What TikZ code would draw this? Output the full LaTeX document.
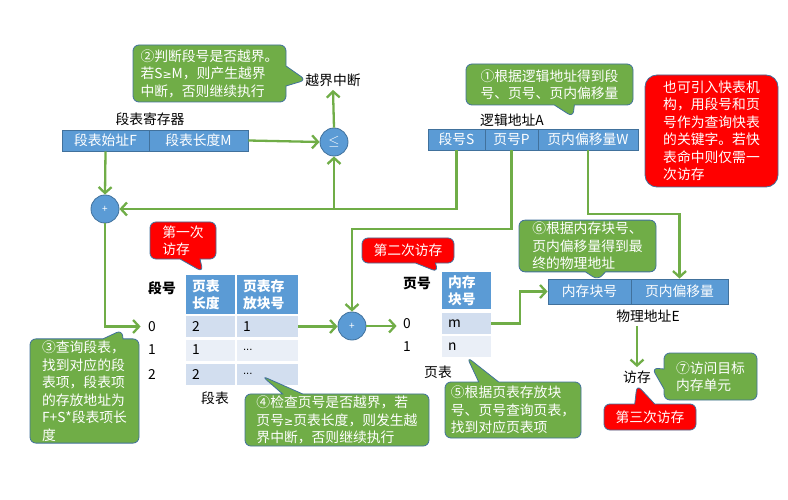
\documentclass[tikz,border=0pt]{standalone}
\usepackage{fontspec}
\setmainfont{Noto Sans CJK SC}
\newfontfamily\relfont{DejaVu Sans}
\usepackage{xcolor}
\usetikzlibrary{shapes,shapes.callouts,arrows.meta,positioning,calc}

\definecolor{regblue}{HTML}{5B9BD5}
\definecolor{boxline}{HTML}{41719C}
\definecolor{notegreen}{HTML}{70AD47}
\definecolor{wiregreen}{HTML}{70AD47}
\definecolor{alertred}{HTML}{FF0000}
\definecolor{rowdark}{HTML}{D2DEEF}
\definecolor{rowlight}{HTML}{EAEFF7}
\newcommand{\moredots}{{\relfont\fontsize{10pt}{12pt}\selectfont ...}}
\newcommand{\geqsign}{{\relfont\fontsize{11pt}{12pt}\selectfont ≥}}

\tikzset{
  every node/.style={font=\fontsize{13.8pt}{17.5pt}\selectfont},
  note/.style={rectangle callout, draw=boxline, fill=notegreen, text=white,
    rounded corners=6pt, align=left, inner sep=2pt, line width=0.8pt,
    callout pointer width=20pt},
  alert/.style={note, fill=alertred},
  cell/.style={draw=boxline, fill=regblue, text=white, inner sep=0pt,
    minimum height=21pt, line width=0.8pt},
  tcell/.style={fill=rowdark, inner xsep=6pt, inner ysep=0pt, align=left,
    minimum height=21pt},
  thead/.style={tcell, fill=regblue, text=white, font=\fontsize{13.8pt}{17pt}\selectfont\bfseries},
  adder/.style={circle, draw=boxline, fill=regblue, text=white, minimum size=28pt,
    inner sep=0pt, line width=0.8pt},
  flow/.style={draw=wiregreen, line width=2.3pt, -{Straight Barb[length=6pt,width=13pt]}},
}

\begin{document}
\begin{tikzpicture}[x=1pt, y=-1pt]
    \useasboundingbox (0,0) rectangle (788,500);

    % Segment register
    \node at (150,119) (regt) {段表寄存器};
    \node[cell, minimum width=87pt] (base) at (105.5,140.5) {段表始址F};
    \node[cell, minimum width=99pt] (len) at (198.5,140.5) {段表长度M};

    % Logical address
    \node (lat) at (512,120) {逻辑地址A};
    \node[cell, minimum width=57pt] (segS) at (456.5,139.5) {段号S};
    \node[cell, minimum width=53pt] (pageP) at (511.5,139.5) {页号P};
    \node[cell, minimum width=100pt] (offW) at (588,139.5) {页内偏移量W};

    % Physical address
    \node[cell, minimum width=83pt, minimum height=25pt] (pblk) at (589.5,291.5) {内存块号};
    \node[cell, minimum width=97pt, minimum height=25pt] (pofs) at (679.5,291.5) {页内偏移量};
    \node (pat) at (648,316) {物理地址E};
    \node (acc) at (637,377) {访存};

    % Compare and adders
    \node[adder] (cmp) at (334,142) {$\leq$};
    \node[adder, font=\fontsize{10pt}{12pt}\selectfont] (add1) at (105,209) {+};
    \node[adder, font=\fontsize{10pt}{12pt}\selectfont] (add2) at (352,326) {+};
    \node (trap) at (333,80) {越界中断};

    % Segment table
    \node[font=\fontsize{13.8pt}{17pt}\selectfont\bfseries] (sno) at (162,288) {段号};
    \node[thead, text width=37pt, minimum height=39pt] (sh1) at (210.5,294.5) {页表\\长度};
    \node[thead, text width=49pt, minimum height=39pt] (sh2) at (267.5,294.5) {页表存\\放块号};
    \foreach \n/\y/\a/\b/\c in {0/326.5/2/1/rowdark, 1/350/1/\moredots/rowlight, 2/374/2/\moredots/rowdark}{
        \node (s\n) at (152,\y) {\n};
        \node[tcell, fill=\c, text width=37pt] (sa\n) at (210.5,\y) {\a};
        \node[tcell, fill=\c, text width=49pt] (sb\n) at (267.5,\y) {\b};
    }
    \node (stl) at (215,398) {段表};

    % Page table
    \node[font=\fontsize{13.8pt}{17pt}\selectfont\bfseries] (pno) at (417,283) {页号};
    \node[thead, text width=37pt, minimum height=37pt] (ph) at (466.5,290.5) {内存\\块号};
    \foreach \n/\y/\a/\c in {0/323.5/m/rowdark, 1/346.5/n/rowlight}{
        \node (p\n) at (407,\y) {\n};
        \node[tcell, fill=\c, text width=37pt] (pc\n) at (466.5,\y) {\a};
    }
    \node (ptl) at (438,372) {页表};

    % Wires
    \coordinate (bendP) at (511.5,229);
    \coordinate (bendW) at (588,214);
    \draw[flow] (base.south) -- (add1.north);
    \draw[flow] (len.east) -- (cmp.west);
    \draw[flow] (cmp.north) -- (trap.south);
    \draw[flow] (segS.south) |- (add1.east);
    \draw[flow] (cmp.south |- add1) -- (cmp.south);
    \draw[flow] (pageP.south) -- (bendP) -| (add2.north);
    \draw[flow] (offW.south) -- (bendW) -| (pofs.north);
    \draw[flow] (add1.south) |- ([xshift=-4pt]s0.west);
    \draw[flow] (sb0.east) -- (sb0.east -| add2.west);
    \draw[flow] (add2.east) -- ([xshift=-3pt]add2.east -| p0.west);
    \draw[flow] (pc0.east) -- ++(29,0) |- (pblk.west);
    \draw[flow] (acc |- pat.south) -- (acc.north);

    % Callout tips
    \coordinate (tip1) at (573,117);
    \coordinate (tip2) at (306,80);
    \coordinate (tip3) at (122,330);
    \coordinate (tip4) at (262,376);
    \coordinate (tip5) at (467,357);
    \coordinate (tip6) at (598,280);
    \coordinate (tip7) at (652,368);
    \coordinate (hit1) at (203,272);
    \coordinate (hit2) at (438,272);
    \coordinate (hit3) at (637,385);

    % Notes
    \node[note, minimum width=167pt, minimum height=41pt, callout absolute pointer=(tip1)] (n1) at (549.5,84.5)
        {①根据逻辑地址得到段\\号、页号、页内偏移量};
    \node[note, minimum width=153pt, minimum height=57pt, callout absolute pointer=(tip2)] (n2) at (209.5,73.5)
        {②判断段号是否越界。\\若S\geqsign M，则产生越界\\中断，否则继续执行};
    \node[note, minimum width=109pt, minimum height=98pt, callout absolute pointer=(tip3)] (n3) at (84.5,391)
        {③查询段表，\\找到对应的段\\表项，段表项\\的存放地址为\\F+S*段表项长\\度};
    \node[note, minimum width=184pt, minimum height=52pt, callout absolute pointer=(tip4)] (n4) at (337,420)
        {④检查页号是否越界，若\\页号\geqsign 页表长度，则发生越\\界中断，否则继续执行};
    \node[note, minimum width=136pt, minimum height=56pt, callout absolute pointer=(tip5)] (n5) at (513,410)
        {⑤根据页表存放块\\号、页号查询页表，\\找到对应页表项};
    \node[note, minimum width=137pt, minimum height=48pt, callout absolute pointer=(tip6)] (n6) at (587.5,246)
        {⑥根据内存块号、\\页内偏移量得到最\\终的物理地址};
    \node[note, minimum width=93pt, minimum height=47pt, callout absolute pointer=(tip7)] (n7) at (710.5,376.5)
        {⑦访问目标\\内存单元};

    % Memory accesses
    \node[alert, minimum width=66pt, minimum height=37pt, callout absolute pointer=(hit1)] (a1) at (183,240.5)
        {第一次\\访存};
    \node[alert, minimum width=92pt, minimum height=25pt, callout absolute pointer=(hit2)] (a2) at (408,250.5)
        {第二次访存};
    \node[alert, minimum width=92pt, minimum height=26pt, callout absolute pointer=(hit3)] (a3) at (650,417)
        {第三次访存};
    \node[draw=boxline, fill=alertred, text=white, rounded corners=12pt, align=left,
        line width=0.8pt, minimum width=133pt, minimum height=112pt] (tlb) at (711.5,131)
        {也可引入快表机\\构，用段号和页\\号作为查询快表\\的关键字。若快\\表命中则仅需一\\次访存};
\end{tikzpicture}
\end{document}
